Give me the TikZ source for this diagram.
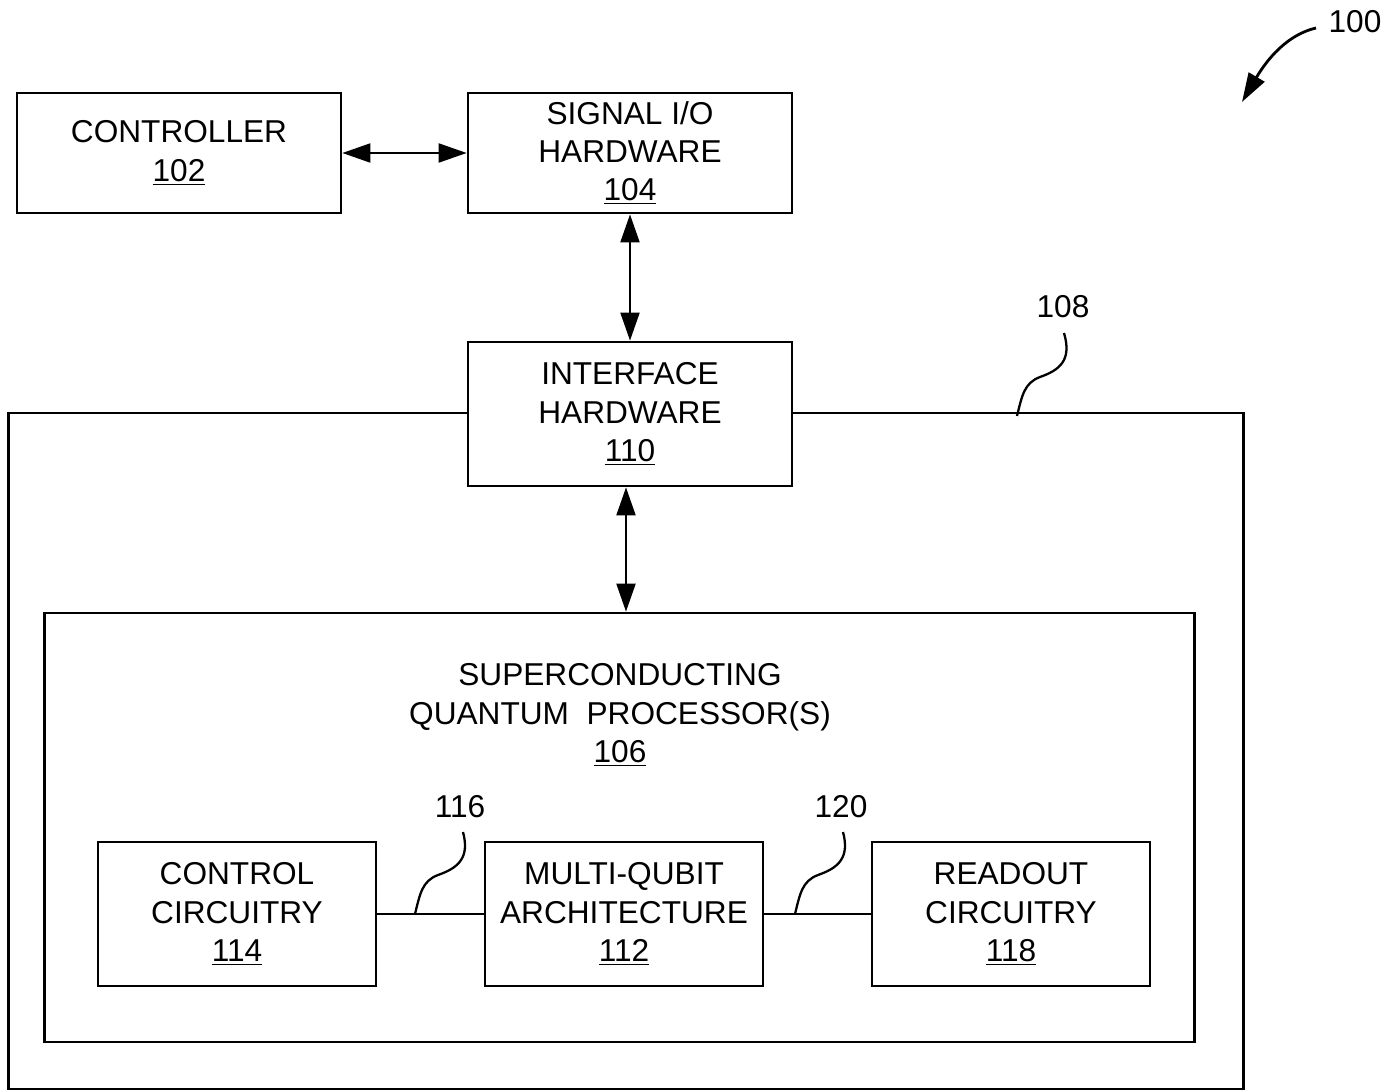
\documentclass[tikz,border=0pt]{standalone}
\usepackage{fontspec}
\setmainfont{Liberation Sans}
\usetikzlibrary{positioning,arrows.meta}

\begin{document}
\begin{tikzpicture}[
    x=0.02cm, y=-0.02cm,
    box/.style={draw, line width=1.6pt, minimum width=6.48cm, minimum height=2.4cm, align=center, inner sep=0pt, font=\fontsize{18}{21.8}\selectfont},
    subbox/.style={box, minimum width=5.56cm, minimum height=2.88cm},
    frame/.style={draw, line width=1.6pt, inner sep=0pt},
    link/.style={line width=1.2pt, {Triangle[length=5.6mm, width=3.8mm]}-{Triangle[length=5.6mm, width=3.8mm]}},
    leader/.style={line width=1.3pt},
    refnum/.style={font=\fontsize{18}{21}\selectfont},
]
\useasboundingbox (0,0) rectangle (1387,1091);

% === Frames (drawn first) ===
\node[frame, minimum width=24.72cm, minimum height=13.52cm] (qs) at (626,751) {};
\node[frame, fill=white, minimum width=23.02cm, minimum height=8.58cm] (proc) at (619.5,827.5) {};

% === Top row ===
\node[box] (ctrl) at (179,153) {CONTROLLER\\\underline{102}};
\node[box] (sigio) at (630,153) {SIGNAL I/O\\HARDWARE\\\underline{104}};

% === Interface ===
\node[box, fill=white, minimum height=2.88cm] (iface) at (630,414) {INTERFACE\\HARDWARE\\\underline{110}};

% Title of processor box
\node[align=center, font=\fontsize{18}{21.8}\selectfont] (proctitle) at (620,715) {SUPERCONDUCTING\\QUANTUM\ \ PROCESSOR(S)\\\underline{106}};

% === Processor parts ===
\node[subbox] (ctlcirc) at (237,914) {CONTROL\\CIRCUITRY\\\underline{114}};
\node[subbox] (mqa) at (624,914) {MULTI-QUBIT\\ARCHITECTURE\\\underline{112}};
\node[subbox] (rdcirc) at (1011,914) {READOUT\\CIRCUITRY\\\underline{118}};

% === Connectors ===
\draw[link] (ctrl.east) -- (sigio.west);
\draw[link] (sigio.south) -- (iface.north);
\draw[link] ([xshift=-0.08cm]iface.south) -- ([xshift=-0.08cm]iface.south |- proc.north);
\draw[line width=1.2pt] (ctlcirc.east) -- (mqa.west);
\draw[line width=1.2pt] (mqa.east) -- (rdcirc.west);

% === Reference numerals ===
\node[refnum] (n100) at (1355,22) {100};
\node[refnum] (n108) at (1063,307) {108};
\node[refnum] (n116) at (460,807) {116};
\node[refnum] (n120) at (841,807) {120};

% Arrow for 100
\coordinate (a100) at (1242,102);
\draw[line width=1.6pt, -{Triangle[length=5.8mm, width=3.6mm]}] (1316,28) .. controls (1282,36) and (1262,68) .. (a100);

% Leader lines
\draw[leader] (1064,333) .. controls (1072,360) and (1060,370) .. (1040,377) .. controls (1024,383) and (1022,396) .. (1017,416);
\draw[leader] (463,832) .. controls (470,858) and (458,868) .. (438,875) .. controls (422,881) and (420,894) .. (415,914);
\draw[leader] (843,832) .. controls (850,858) and (838,868) .. (818,875) .. controls (802,881) and (800,894) .. (795,914);

\end{tikzpicture}
\end{document}
